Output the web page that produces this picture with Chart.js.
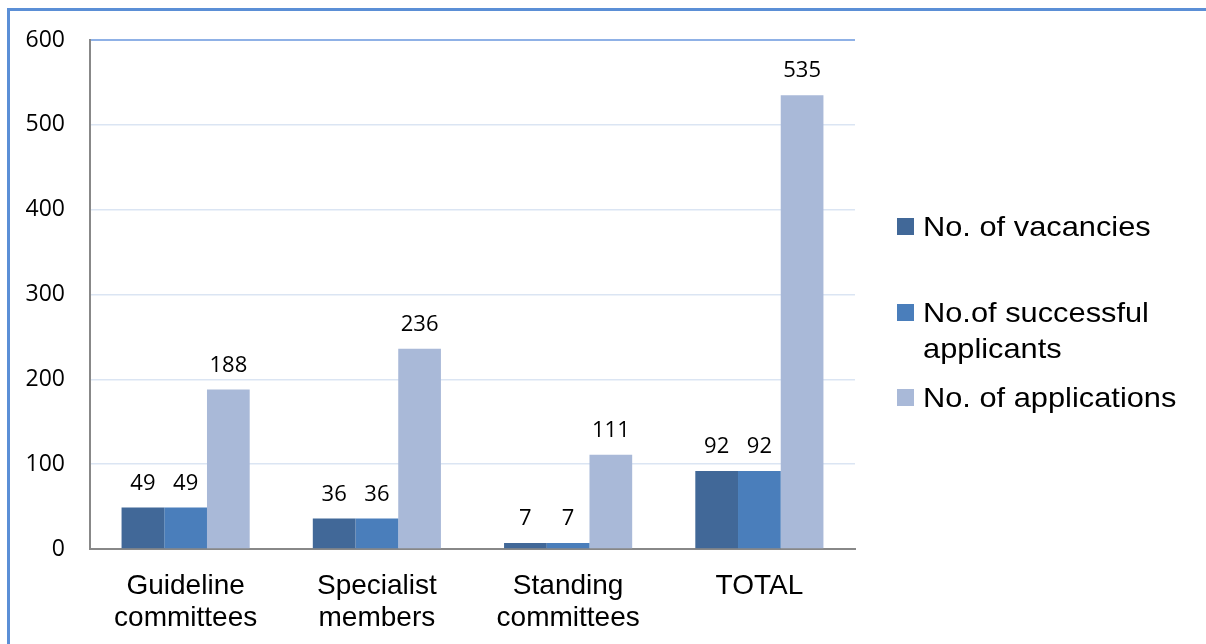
<!DOCTYPE html>
<html>
<head>
<meta charset="utf-8">
<script src="https://cdn.jsdelivr.net/npm/chart.js@4.4.1/dist/chart.umd.min.js"></script>
<style>
    html, body { margin: 0; padding: 0; background: #fff; overflow: hidden; }
    #wrap { position: relative; width: 1206px; height: 644px; }
    #frame {
        position: absolute; left: 7px; top: 8px; width: 1400px; height: 800px;
        border: 3px solid #5b8fd6; box-sizing: border-box;
    }
    canvas { position: absolute; left: 0; top: 0; }
    .leg { position: absolute; left: 897px; font-family: "Liberation Sans", Arial, sans-serif;
           font-size: 28px; line-height: 36px; color: #000; }
    .leg .sw { position: absolute; left: 0; top: 9px; width: 17px; height: 17px; }
    .leg .tx { position: absolute; left: 26px; top: 0; white-space: nowrap;
               transform: scaleX(1.1); transform-origin: left center; }
</style>
</head>
<body>
<div id="wrap">
    <div id="frame"></div>
    <canvas id="chart" width="1206" height="644"></canvas>
</div>
<script>
// categories and values
const categories = [['Guideline', 'committees'], ['Specialist', 'members'], ['Standing', 'committees'], 'TOTAL'];
const vacancies = [49, 36, 7, 92];
const successful = [49, 36, 7, 92];
const applications = [188, 236, 111, 535];
const seriesNames = ['No. of vacancies', ['No.of successful', 'applicants'], 'No. of applications'];
const seriesColors = ['#416898', '#4a7ebb', '#a9b9d8'];
const yTicks = [0, 100, 200, 300, 400, 500, 600];

// draws the value above each bar
const barValues = {
    id: 'barValues',
    afterDatasetsDraw(chart) {
        const ctx = chart.ctx;
        ctx.save();
        ctx.font = '22px "Open Sans", sans-serif';
        ctx.fillStyle = '#000';
        ctx.textAlign = 'center';
        ctx.textBaseline = 'bottom';
        chart.data.datasets.forEach((ds, i) => {
            chart.getDatasetMeta(i).data.forEach((bar, j) => {
                ctx.fillText(ds.data[j], bar.x, bar.y - 13);
            });
        });
        ctx.restore();
    }
};

const seriesData = [vacancies, successful, applications];

new Chart(document.getElementById('chart').getContext('2d'), {
    type: 'bar',
    data: {
        labels: categories,
        datasets: seriesData.map((d, i) => ({
            label: Array.isArray(seriesNames[i]) ? seriesNames[i].join(' ') : seriesNames[i],
            data: d,
            backgroundColor: seriesColors[i],
            borderWidth: 0,
            categoryPercentage: 0.67,
            barPercentage: 1.0
        }))
    },
    options: {
        responsive: false,
        animation: false,
        layout: { padding: { top: 40, right: 351, left: 0, bottom: 0 } },
        plugins: { legend: { display: false }, tooltip: { enabled: false } },
        scales: {
            x: {
                grid: { display: false, drawTicks: false },
                border: { color: '#888888', width: 2 },
                ticks: {
                    color: '#000',
                    font: { family: '"Liberation Sans", Arial, sans-serif', size: 28, lineHeight: 1.15 },
                    padding: 21,
                    maxRotation: 0,
                    autoSkip: false
                },
                afterFit(scale) { scale.height = 95; }
            },
            y: {
                min: 0, max: 600,
                afterBuildTicks(scale) { scale.ticks = yTicks.map(v => ({ value: v })); },
                grid: {
                    drawTicks: false,
                    color: ctx => ctx.tick && ctx.tick.value === 600 ? '#8fb1e6' : '#dbe5f3',
                    lineWidth: ctx => ctx.tick && ctx.tick.value === 600 ? 2 : 1.5
                },
                border: { color: '#888888', width: 2 },
                ticks: {
                    color: '#000',
                    font: { family: '"Open Sans", sans-serif', size: 23 },
                    padding: 25
                },
                afterFit(scale) { scale.width = 90; }
            }
        }
    },
    plugins: [barValues]
});

// legend, built from the series names
const legendTops = [209, 295, 380];
seriesNames.forEach((name, i) => {
    const item = document.createElement('div');
    item.className = 'leg';
    item.style.top = legendTops[i] + 'px';
    const sw = document.createElement('div');
    sw.className = 'sw';
    sw.style.background = seriesColors[i];
    const tx = document.createElement('div');
    tx.className = 'tx';
    tx.innerHTML = Array.isArray(name) ? name.join('<br>') : name;
    item.appendChild(sw);
    item.appendChild(tx);
    document.getElementById('wrap').appendChild(item);
});
</script>
</body>
</html>
